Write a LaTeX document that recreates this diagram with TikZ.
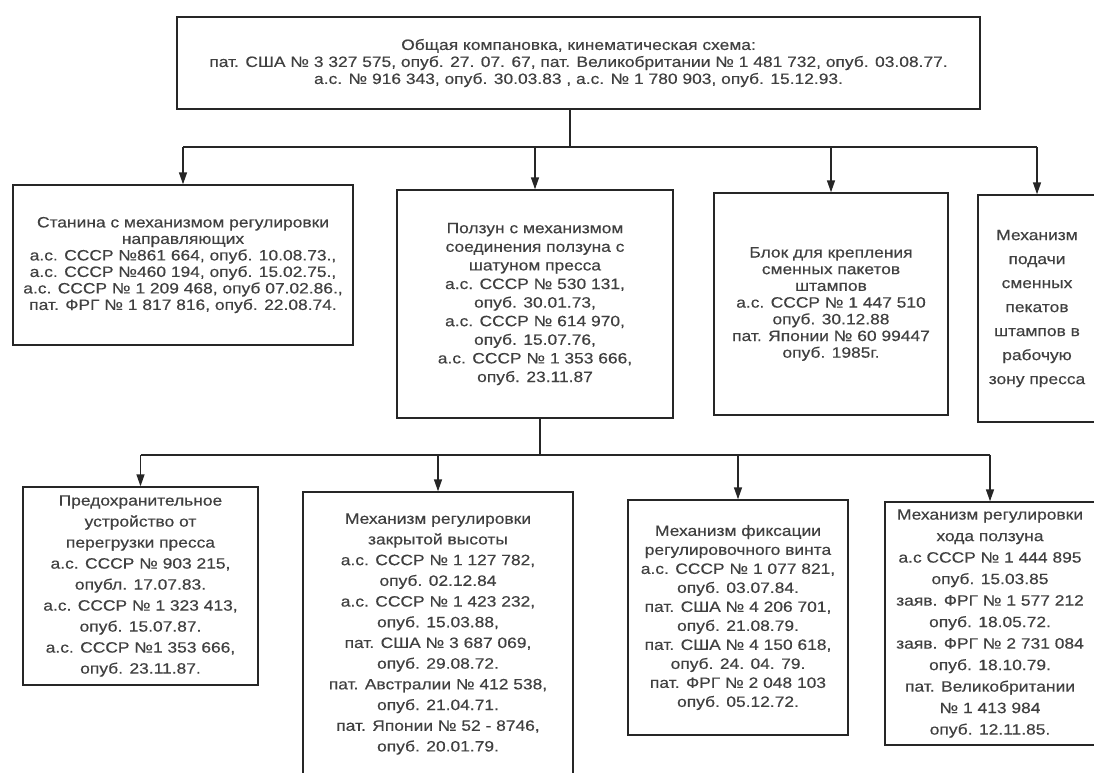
\documentclass[tikz,border=0pt]{standalone}
\usepackage{fontspec}
\setmainfont[FakeStretch=1.16, FakeBold=0.35]{Liberation Sans}
\usepackage{tikz}
\usetikzlibrary{arrows.meta, positioning, calc}
\definecolor{skanink}{HTML}{262626}
\definecolor{skantext}{HTML}{404040}

\tikzset{
  blok/.style={draw=skanink, line width=1.4pt, fill=white,
    align=center, inner sep=0pt, text=skantext,
    font=\fontsize{15}{#1}\selectfont},
  blok/.default=17,
  svyaz/.style={draw=skanink, line width=1.4pt},
  strel/.style={svyaz, -{Triangle[length=12pt,width=8pt]}}
}

\begin{document}
\begin{tikzpicture}[x=1pt, y=-1pt]
  \useasboundingbox (0,0) rectangle (1094,772);
  \fill[white] (0,0) rectangle (1094,772);

  % top level
  \node[blok, minimum width=803pt, minimum height=92pt] (obsh) at (578.5,63) {
    Общая компановка, кинематическая схема:\\
    пат. США № 3 327 575, опуб. 27. 07. 67, пат. Великобритании № 1 481 732, опуб. 03.08.77.\\
    а.с. № 916 343, опуб. 30.03.83 , а.с. № 1 780 903, опуб. 15.12.93.};

  % first row
  \node[blok=16.5, minimum width=340pt, minimum height=160pt] (stan) at (183,265) {
    Станина с механизмом регулировки\\ направляющих\\
    а.с. СССР №861 664, опуб. 10.08.73.,\\
    а.с. СССР №460 194, опуб. 15.02.75.,\\
    а.с. СССР № 1 209 468, опуб 07.02.86.,\\
    пат. ФРГ № 1 817 816, опуб. 22.08.74.};
  \node[blok=18.6, minimum width=276pt, minimum height=228pt] (polz) at (535,304) {
    Ползун с механизмом\\ соединения ползуна с\\ шатуном пресса\\
    а.с. СССР № 530 131,\\ опуб. 30.01.73,\\
    а.с. СССР № 614 970,\\ опуб. 15.07.76,\\
    а.с. СССР № 1 353 666,\\ опуб. 23.11.87};
  \node[blok=16.7, minimum width=234pt, minimum height=222pt] (kreplenie) at (831,304) {
    Блок для крепления\\ сменных пакетов\\ штампов\\
    а.с. СССР № 1 447 510\\ опуб. 30.12.88\\
    пат. Японии № 60 99447\\ опуб. 1985г.};
  \node[blok=24, minimum width=118pt, minimum height=227pt] (podacha) at (1037,308.5) {
    Механизм\\ подачи\\ сменных\\ пекатов\\ штампов в\\ рабочую\\ зону пресса};

  % second row
  \node[blok=21, minimum width=235pt, minimum height=198pt] (pred) at (140.5,586) {
    Предохранительное\\ устройство от\\ перегрузки пресса\\
    а.с. СССР № 903 215,\\ опубл. 17.07.83.\\
    а.с. СССР № 1 323 413,\\ опуб. 15.07.87.\\
    а.с. СССР №1 353 666,\\ опуб. 23.11.87.};
  \node[blok=20.7, minimum width=270pt, minimum height=284pt] (vysota) at (438,634) {
    Механизм регулировки\\ закрытой высоты\\
    а.с. СССР № 1 127 782,\\ опуб. 02.12.84\\
    а.с. СССР № 1 423 232,\\ опуб. 15.03.88,\\
    пат. США № 3 687 069,\\ опуб. 29.08.72.\\
    пат. Австралии № 412 538,\\ опуб. 21.04.71.\\
    пат. Японии № 52 - 8746,\\ опуб. 20.01.79.};
  \node[blok=19, minimum width=220pt, minimum height=235pt] (fiks) at (738,617.5) {
    Механизм фиксации\\ регулировочного винта\\
    а.с. СССР № 1 077 821,\\ опуб. 03.07.84.\\
    пат. США № 4 206 701,\\ опуб. 21.08.79.\\
    пат. США № 4 150 618,\\ опуб. 24. 04. 79.\\
    пат. ФРГ № 2 048 103\\ опуб. 05.12.72.};
  \node[blok=21.5, minimum width=210pt, minimum height=243pt] (hod) at (990,623.5) {
    Механизм регулировки\\ хода ползуна\\
    а.с СССР № 1 444 895\\ опуб. 15.03.85\\
    заяв. ФРГ № 1 577 212\\ опуб. 18.05.72.\\
    заяв. ФРГ № 2 731 084\\ опуб. 18.10.79.\\
    пат. Великобритании\\ № 1 413 984\\ опуб. 12.11.85.};

  % connectors
  \coordinate (razv1) at (570,147);
  \coordinate (razv2) at (540,455);
  \draw[svyaz] (obsh.south -| razv1) -- (razv1);
  \draw[svyaz] (razv1 -| stan.north) -- (razv1 -| podacha.north);
  \foreach \n in {stan, polz, kreplenie, podacha}
    \draw[strel] (razv1 -| \n.north) -- (\n.north);
  \draw[svyaz] (polz.south -| razv2) -- (razv2);
  \draw[svyaz] (razv2 -| pred.north) -- (razv2 -| hod.north);
  \foreach \n in {pred, vysota, fiks, hod}
    \draw[strel] (razv2 -| \n.north) -- (\n.north);
\end{tikzpicture}
\end{document}
